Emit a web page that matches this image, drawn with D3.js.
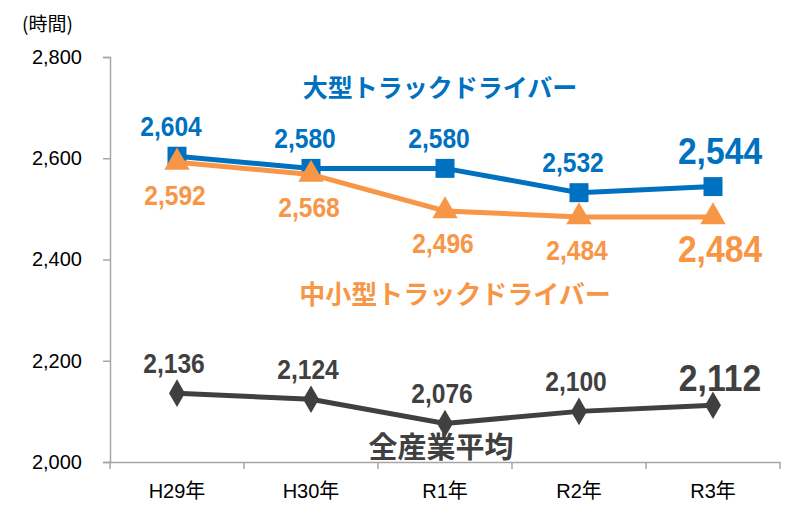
<!DOCTYPE html>
<html><head><meta charset="utf-8">
<script src="https://cdn.jsdelivr.net/npm/d3@7"></script>
<style>body{margin:0;background:#fff}svg{display:block}</style>
</head><body>
<script>
const categories = ["H29年","H30年","R1年","R2年","R3年"];
const largeTruck = [2604,2580,2580,2532,2544];
const smallTruck = [2592,2568,2496,2484,2484];
const allIndustry = [2136,2124,2076,2100,2112];
const yTicks = [2000,2200,2400,2600,2800];

const W=796,H=513;
const svg=d3.select("body").append("svg").attr("width",W).attr("height",H);
const x=d3.scaleBand().domain(categories).range([110,780]);
const y=d3.scaleLinear().domain([2000,2800]).range([462,57]);
const cx=c=>x(c)+x.bandwidth()/2;
const numFont="'Liberation Sans', Arial, 'Noto Sans CJK JP', sans-serif";
const jpFont="'Noto Sans CJK JP', sans-serif";
const fmt=d3.format(",");

// axes
const ya=svg.append("g").attr("transform","translate(110,0)")
  .call(d3.axisLeft(y).tickValues(yTicks).tickFormat(fmt).tickSizeOuter(0).tickSize(7).tickPadding(21));
ya.select(".domain").attr("stroke","#a6a6a6").attr("stroke-width",1.5);
ya.selectAll(".tick line").attr("stroke","#a6a6a6").attr("stroke-width",1.5);
ya.selectAll("text").attr("font-family",numFont).attr("font-size",20).attr("fill","#000");

const xa=svg.append("g").attr("transform","translate(0,462)")
  .call(d3.axisBottom(x).tickSize(0).tickPadding(22).tickSizeOuter(0));
xa.select(".domain").attr("stroke","#a6a6a6").attr("stroke-width",1.5);
xa.selectAll("text").attr("font-family",numFont).attr("font-size",20).attr("fill","#000");
// category boundary ticks
const bounds=categories.map(c=>x(c)).concat([x.range()[1]]);
svg.append("g").selectAll("line").data(bounds).join("line")
  .attr("x1",d=>d).attr("x2",d=>d).attr("y1",462).attr("y2",469).attr("stroke","#a6a6a6").attr("stroke-width",1.5);

svg.append("text").attr("x",22).attr("y",31).attr("font-family",jpFont).attr("font-size",19).text("(時間)");

const line=d3.line().x((d,i)=>cx(categories[i])).y(d=>y(d));

function series(data,color,shape,size,labelDy,lastDy,dx){
  const g=svg.append("g");
  g.append("path").datum(data).attr("d",line).attr("fill","none").attr("stroke",color).attr("stroke-width",5);
  g.selectAll("path.m").data(data).join("path").attr("class","m")
    .attr("transform",(d,i)=>`translate(${cx(categories[i])},${y(d)})`)
    .attr("d",d3.symbol().type(shape).size(size)).attr("fill",color);
  g.selectAll("text").data(data).join("text")
    .attr("transform",(d,i)=>{
      const last=i===data.length-1;
      const tx=cx(categories[i])+(last?7:dx);
      const ty=y(d)+(last?lastDy:labelDy);
      return `translate(${tx},${ty}) scale(${last?0.91:0.88},1)`;
    })
    .attr("text-anchor","middle").attr("dominant-baseline","central")
    .attr("font-family",numFont).attr("font-weight","bold")
    .attr("font-size",(d,i)=>i===data.length-1?37:28).attr("fill",color)
    .text(fmt);
}
series(largeTruck,"#0070C0",d3.symbolSquare,360,-30,-36,-6);
series(smallTruck,"#F79646",d3.symbolTriangle,280,33,32,-2);
series(allIndustry,"#404040",d3.symbolDiamond,220,-30,-27,-3);

svg.append("text").attr("x",440).attr("y",86).attr("text-anchor","middle").attr("dominant-baseline","central")
  .attr("font-family",jpFont).attr("font-weight","bold").attr("font-size",25).attr("fill","#0070C0").text("大型トラックドライバー");
svg.append("text").attr("x",455).attr("y",292).attr("text-anchor","middle").attr("dominant-baseline","central")
  .attr("font-family",jpFont).attr("font-weight","bold").attr("font-size",26).attr("fill","#F79646").text("中小型トラックドライバー");
svg.append("text").attr("x",441).attr("y",445).attr("text-anchor","middle").attr("dominant-baseline","central")
  .attr("font-family",jpFont).attr("font-weight","bold").attr("font-size",29).attr("fill","#404040").text("全産業平均");
</script>
</body></html>
